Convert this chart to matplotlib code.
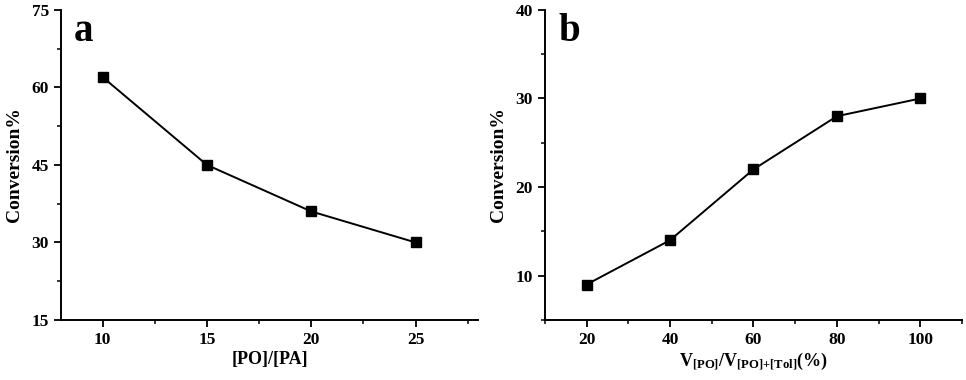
import matplotlib
matplotlib.use("Agg")
import matplotlib.pyplot as plt
from matplotlib.ticker import MultipleLocator

ratio = [10, 15, 20, 25]
conv_ratio = [62, 45, 36, 30]

vol_frac = [20, 40, 60, 80, 100]
conv_vol = [9, 14, 22, 28, 30]

plt.rcParams["font.family"] = ["Liberation Serif", "DejaVu Serif"]
plt.rcParams["font.weight"] = "bold"
plt.rcParams["mathtext.fontset"] = "custom"
plt.rcParams["mathtext.rm"] = "Liberation Serif:bold"
plt.rcParams["mathtext.default"] = "rm"

fig = plt.figure(figsize=(9.66, 3.8), dpi=100)
ax1 = fig.add_axes([0.063, 0.158, 0.432, 0.816])
ax2 = fig.add_axes([0.564, 0.158, 0.432, 0.816])


def style(ax):
    for s in ("top", "right"):
        ax.spines[s].set_visible(False)
    for s in ("left", "bottom"):
        ax.spines[s].set_linewidth(1.4)
    ax.tick_params(which="major", direction="out", length=5, width=1.3, labelsize=12.5)
    ax.tick_params(which="minor", direction="out", length=3, width=1.1)
    for lab in ax.get_xticklabels() + ax.get_yticklabels():
        lab.set_fontweight("bold")


ax1.plot(ratio, conv_ratio, color="black", lw=1.4, marker="s", ms=7.5)
ax1.set_xlim(8, 28)
ax1.set_ylim(15, 75)
ax1.xaxis.set_major_locator(MultipleLocator(5))
ax1.xaxis.set_minor_locator(MultipleLocator(2.5))
ax1.yaxis.set_major_locator(MultipleLocator(15))
ax1.yaxis.set_minor_locator(MultipleLocator(7.5))
ax1.set_xlabel("[PO]/[PA]", fontsize=13, fontweight="bold", labelpad=2)
ax1.set_ylabel("Conversion%", fontsize=14, fontweight="bold", labelpad=6)
ax1.text(0.032, 0.93, "a", transform=ax1.transAxes, fontsize=28, fontweight="bold", va="center")
style(ax1)

ax2.plot(vol_frac, conv_vol, color="black", lw=1.4, marker="s", ms=7.5)
ax2.set_xlim(10, 110)
ax2.set_ylim(5, 40)
ax2.xaxis.set_major_locator(MultipleLocator(20))
ax2.xaxis.set_minor_locator(MultipleLocator(10))
ax2.yaxis.set_minor_locator(MultipleLocator(5))
ax2.set_yticks([10, 20, 30, 40])
ax2.set_xlabel(r"V$_{[PO]}$/V$_{[PO]{+}[Tol]}$(%)", fontsize=13, fontweight="bold", labelpad=2)
ax2.set_ylabel("Conversion%", fontsize=14, fontweight="bold", labelpad=6)
ax2.text(0.032, 0.93, "b", transform=ax2.transAxes, fontsize=28, fontweight="bold", va="center")
style(ax2)

fig.savefig("out.png", dpi=100)
